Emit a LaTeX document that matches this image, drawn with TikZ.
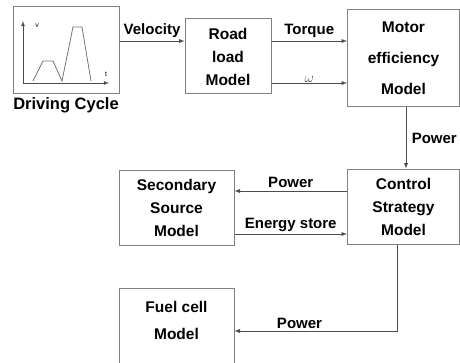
\documentclass[tikz,border=0pt]{standalone}
\usepackage{fontspec}
\setmainfont{Liberation Sans}
\begin{document}
\begin{tikzpicture}[x=1pt,y=1pt]
   \tikzstyle{every node}=[node distance=12mm]
   \tikzstyle{box}=[draw=black!50,line width=1pt,align=center,font=\fontsize{15.5}{23}\selectfont\bfseries]
   \tikzstyle{lbl}=[font=\fontsize{15}{18}\selectfont\bfseries,above]
   \tikzstyle{arr}=[->,>=latex,line width=0.9pt,draw=black!70]

   \useasboundingbox (0,0) rectangle (460,362) ;

   \node (dc) [box,minimum width=106pt,minimum height=87pt] at (66,311.5) {} ;
   \node (dcname) [below of=dc,yshift=-21pt,font=\fontsize{16.5}{20}\selectfont\bfseries] {Driving Cycle} ;
   \node (road) [box,minimum width=86pt,minimum height=75pt] at (228,305.5) {Road\\load\\Model} ;
   \node (motor) [box,minimum width=112pt,minimum height=97pt] at (403.5,303.5) {Motor\\[8pt]efficiency\\[8pt]Model} ;
   \node (ctrl) [box,minimum width=112pt,minimum height=75pt] at (403.5,155.5) {Control\\Strategy\\Model} ;
   \node (sec) [box,minimum width=115pt,minimum height=75pt] at (176.5,154.5) {Secondary\\Source\\Model} ;
   \node (fuel) [box,minimum width=115pt,minimum height=86pt] at (176.5,31) {} ;
   \node (fueltext) [box,draw=none] at ([yshift=-33pt]fuel.north) {Fuel cell\\[4pt]Model} ;

   % speed profile inside the driving cycle box
   \draw [->,>=latex,draw=black!70,line width=0.8pt] (23,279) -- (23,341) ;
   \draw [->,>=latex,draw=black!70,line width=0.8pt] (23,279) -- (109,279) ;
   \node (vlab) at (37,336) {\fontsize{7}{8}\selectfont v} ;
   \node (tlab) at (106,288) {\fontsize{7}{8}\selectfont t} ;
   \draw [draw=black!55,line width=0.8pt] (33,281) -- (43,301) -- (53,301) -- (62,281) -- (73,335) -- (82,335) -- (91,281) ;

   \draw [arr] ([yshift=9.5pt]dc.east) coordinate (v0) -- node [lbl] {Velocity} (v0 -| road.west) ;
   \draw [arr] ([yshift=15.5pt]road.east) coordinate (t0) -- node [lbl] {Torque} (t0 -| motor.west) ;
   \draw [arr] ([yshift=-26.5pt]road.east) coordinate (w0) -- node [above,inner sep=0.5pt,text=black!70,font=\fontsize{15}{18}\selectfont] {$\omega$} (w0 -| motor.west) ;
   \draw [arr] ([xshift=2.5pt]motor.south) -- node [lbl,right,xshift=2pt] {Power} ([xshift=2.5pt]ctrl.north) ;
   \draw [arr] ([yshift=15.5pt]ctrl.west) coordinate (p0) -- node [lbl] {Power} (p0 -| sec.east) ;
   \draw [arr] ([yshift=-26.5pt]sec.east) coordinate (e0) -- node [lbl,inner sep=2pt] {Energy store} (e0 -| ctrl.west) ;
   \draw [arr] ([xshift=-6.5pt]ctrl.south) |- node [lbl,pos=0.8,inner sep=2pt] {Power} (fuel.east) ;

\end{tikzpicture}
\end{document}
